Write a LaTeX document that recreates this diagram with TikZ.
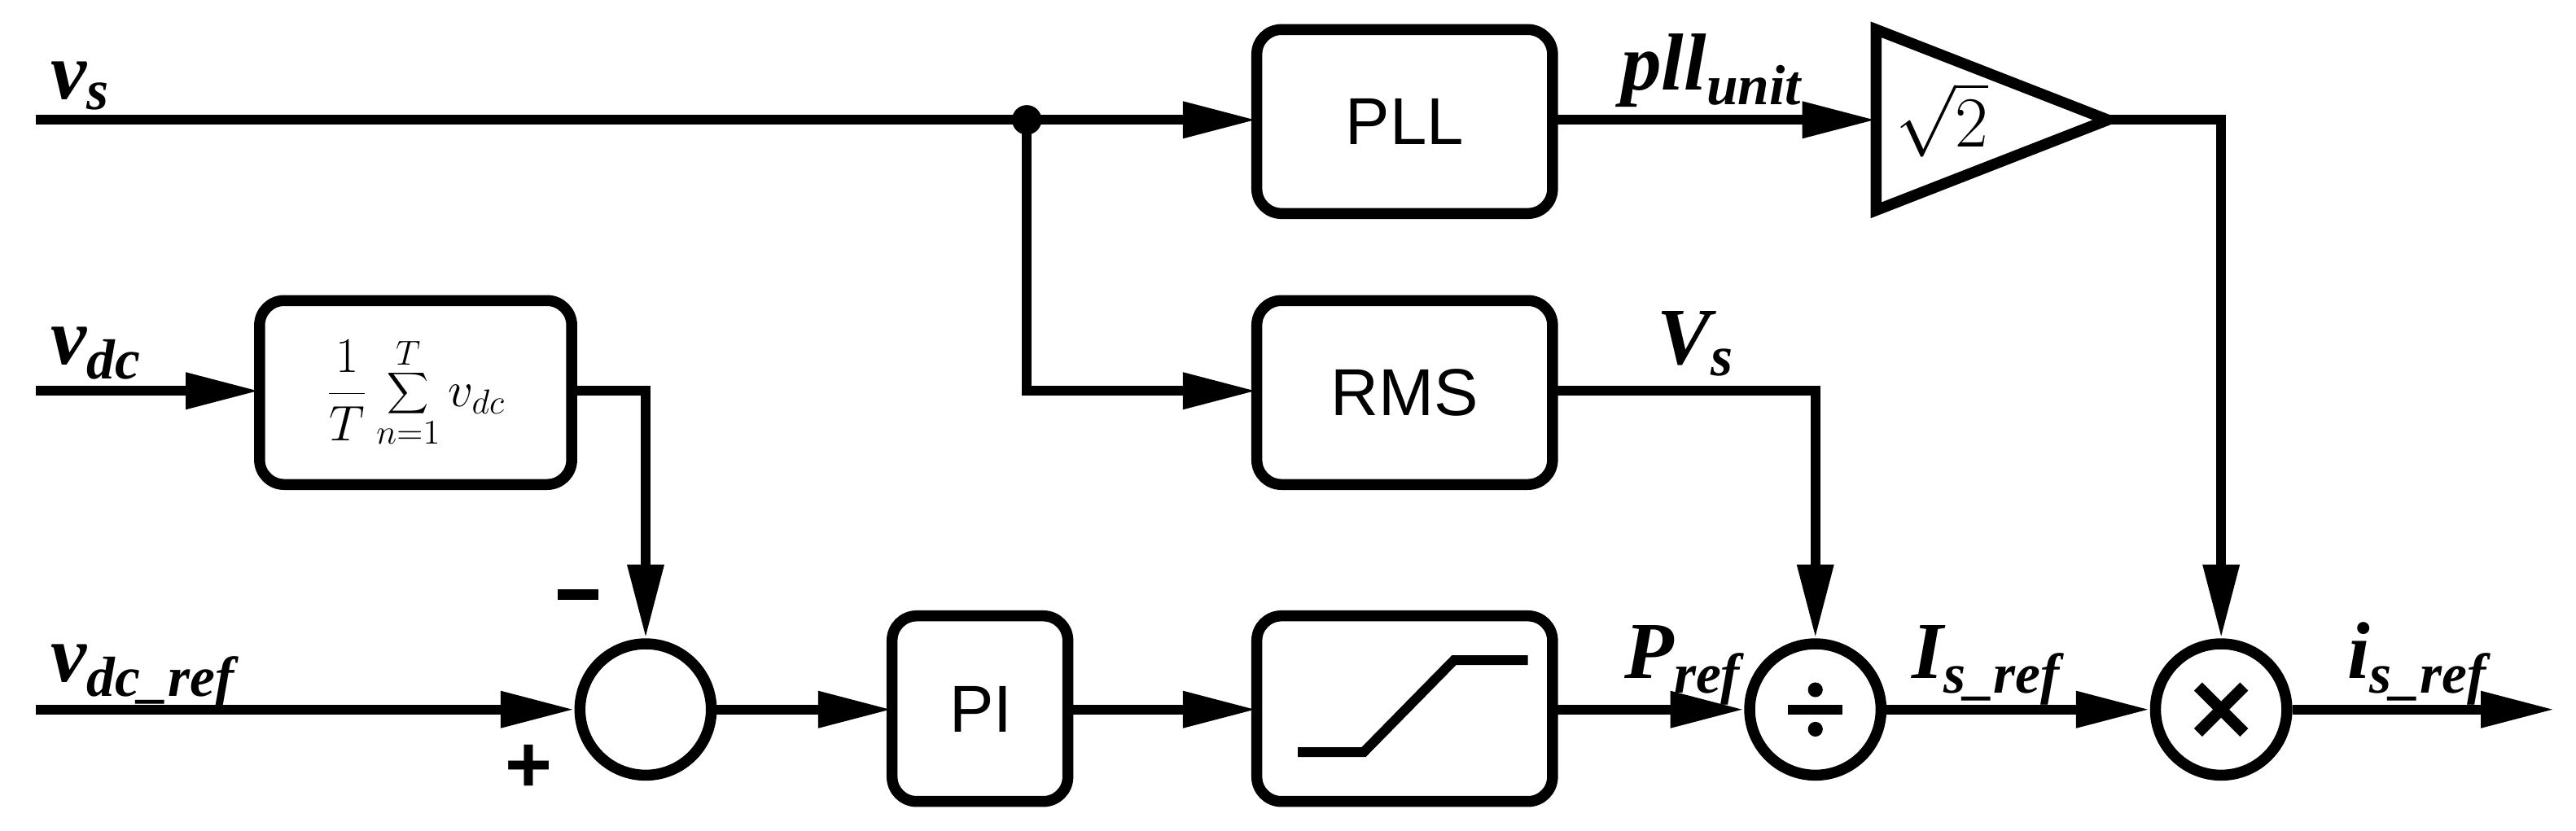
\documentclass[tikz,border=0pt]{standalone}
\usepackage{fontspec}
\setmainfont{Liberation Serif}
\newfontfamily\sans{Liberation Sans}
\usetikzlibrary{arrows.meta}
\begin{document}
\begin{tikzpicture}[x=0.02cm,y=-0.02cm,
  line width=3.4pt,
  ar/.style={-{Triangle[length=0.9cm,width=0.42cm]}},
  box/.style={draw,rounded corners=0.3cm,line width=3.8pt},
  circ/.style={draw,circle,minimum size=1.6cm,inner sep=0pt,line width=3.8pt},
  lab/.style={font=\fontsize{28}{32}\selectfont\bfseries\itshape},
  btxt/.style={font=\sans\fontsize{23}{26}\selectfont}]
\useasboundingbox (0,0) rectangle (1568,505.5);
% boxes
\draw[box] (765,18) rectangle (945,130);
\node[btxt] (pll) at (855,74) {PLL};
\coordinate (pllL) at (765,73); \coordinate (pllR) at (945,73);
\draw[box] (765,183) rectangle (945,295);
\node[btxt] (rms) at (855,239) {RMS};
\coordinate (rmsL) at (765,238); \coordinate (rmsR) at (945,238);
\draw[box] (158,183) rectangle (348,295);
\node (avg) at (253,239) {\fontsize{18}{20}\selectfont$\displaystyle\frac{1}{T}\sum_{n=1}^{T}v_{dc}$};
\coordinate (avgL) at (158,238); \coordinate (avgR) at (348,238);
\draw[box] (543,375) rectangle (650,488);
\node[btxt] (pi) at (597,432) {PI};
\coordinate (piL) at (543,432); \coordinate (piR) at (650,432);
\draw[box] (765,375) rectangle (945,488);
\coordinate (satL) at (765,432); \coordinate (satR) at (945,432);
\draw (790,458) -- (830,458) -- (885,402) -- (930,402);
% gain
\draw[line width=3.8pt,line join=miter] (1142,18) -- (1283,73) -- (1142,128) -- cycle;
\coordinate (gL) at (1142,73); \coordinate (gR) at (1283,73);
\node (g) at (1182,73) {\fontsize{26}{30}\selectfont$\sqrt{2}$};
% circles
\node[circ] (sum) at (393,432) {};
\node[circ] (div) at (1105,432) {};
\draw[line width=3.5pt] ([xshift=-0.33cm]div.center) -- ([xshift=0.33cm]div.center);
\fill ([yshift=0.24cm]div.center) circle (4.5) ([yshift=-0.24cm]div.center) circle (4.5);
\node[circ] (mul) at (1352,432) {};
\draw[line width=4pt] ([shift={(-14,-14)}]mul.center) -- ([shift={(14,14)}]mul.center)
  ([shift={(-14,14)}]mul.center) -- ([shift={(14,-14)}]mul.center);
% inputs
\coordinate (vs) at (22,73); \coordinate (vdc) at (22,238); \coordinate (vref) at (22,432);
\coordinate (j) at (625,73); \coordinate (out) at (1555,432);
\fill (j) circle (9);
\draw[ar] (vs) -- (pllL);
\draw[ar] (j) |- (rmsL);
\draw[ar] (pllR) -- (gL);
\draw[ar] (gR) -| (mul.north);
\draw[ar] (rmsR) -| (div.north);
\draw[ar] (vdc) -- (avgL);
\draw[ar] (avgR) -| (sum.north);
\draw[ar] (vref) -- (sum.west);
\draw[ar] (sum.east) -- (piL);
\draw[ar] (piR) -- (satL);
\draw[ar] (satR) -- (div.west);
\draw[ar] (div.east) -- (mul.west);
\draw[ar] (mul.east) -- (out);
% labels
\node[lab,anchor=base west] (l1) at (22,60) {v\textsubscript{s}};
\node[lab,anchor=base west] (l2) at (22,222) {v\textsubscript{dc}};
\node[lab,anchor=base west] (l3) at (22,415) {v\textsubscript{dc\_ref}};
\node[lab,anchor=base west] (l4) at (978,55) {pll\textsubscript{unit}};
\node[lab,anchor=base west] (l5) at (1000,222) {V\textsubscript{s}};
\node[lab,anchor=base west] (l6) at (980,413) {P\textsubscript{ref}};
\node[lab,anchor=base west] (l7) at (1155,413) {I\textsubscript{s\_ref}};
\node[lab,anchor=base west] (l8) at (1420,413) {i\textsubscript{s\_ref}};
\node[font=\sans\bfseries\fontsize{26}{30}\selectfont] (m) at (352,362) {\rule{14pt}{3.5pt}};
\node[font=\sans\bfseries\fontsize{28}{30}\selectfont] (p) at (322,468) {+};
\end{tikzpicture}
\end{document}
